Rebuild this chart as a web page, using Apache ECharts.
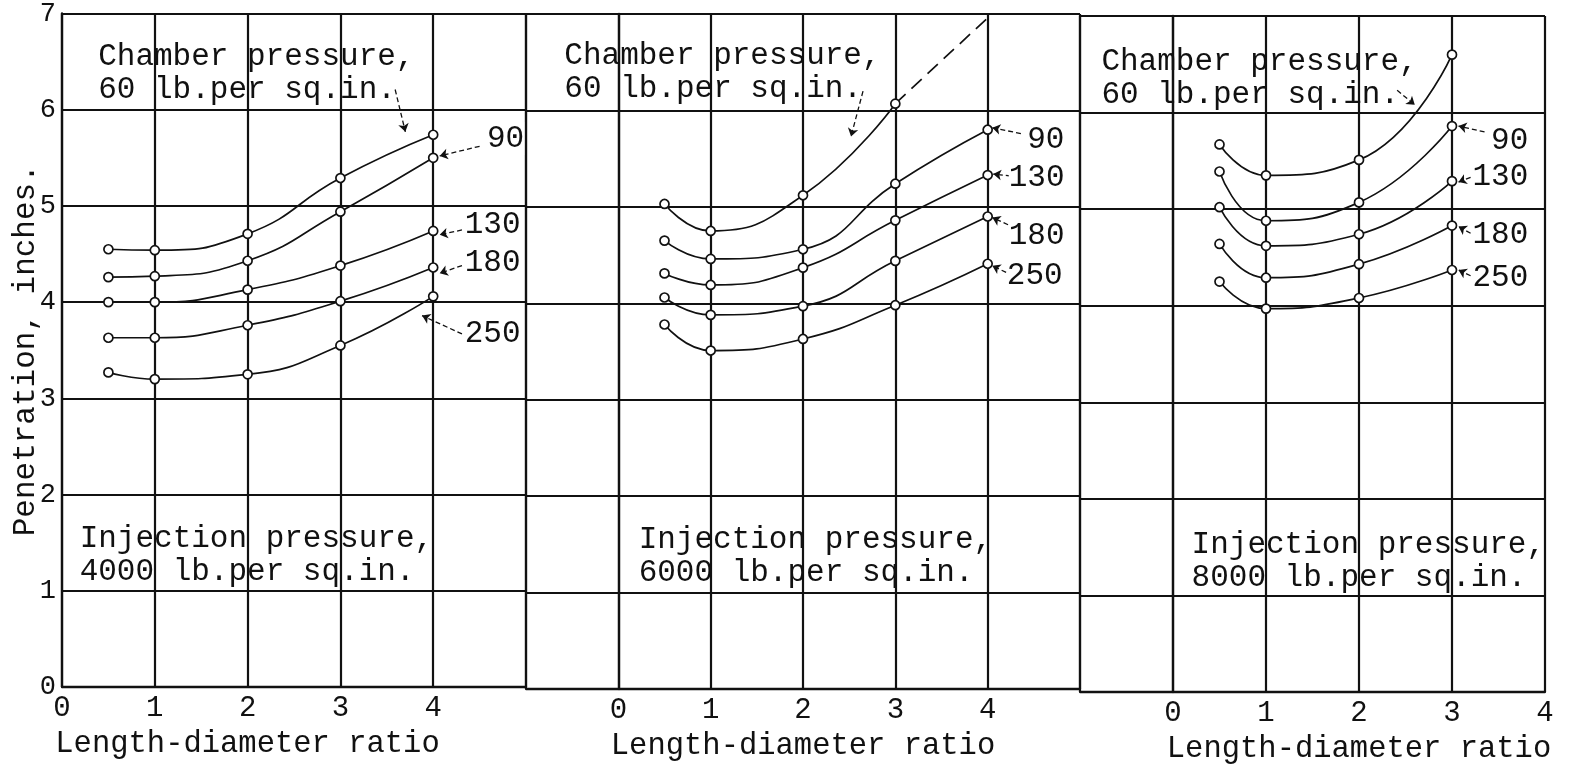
<!DOCTYPE html>
<html>
<head>
<meta charset="utf-8">
<script src="https://cdn.jsdelivr.net/npm/echarts@6.0.0/dist/echarts.min.js"></script>
<style>
  html, body { margin: 0; padding: 0; background: #fff; }
  #main { width: 1569px; height: 774px; }
</style>
</head>
<body>
<div id="main"></div>
<script>
// Length-diameter ratios where penetration was measured
const ldRatio = [0.5, 1, 2, 3, 4];
const ldRatio8000 = [0.5, 1, 2, 3];
const chamberPressures = ['60', '90', '130', '180', '250'];
const xTickLabels = ['0', '1', '2', '3', '4'];

// Injection pressure 4000 lb/sq in - penetration, inches
const inj4000_60 = [4.55, 4.54, 4.71, 5.29, 5.74];
const inj4000_90 = [4.26, 4.27, 4.43, 4.94, 5.50];
const inj4000_130 = [4.00, 4.00, 4.13, 4.38, 4.74];
const inj4000_180 = [3.63, 3.63, 3.76, 4.01, 4.36];
const inj4000_250 = [3.27, 3.20, 3.25, 3.55, 4.06];

// Injection pressure 6000 lb/sq in
const inj6000_60 = [5.03, 4.75, 5.12, 6.07, null];
const inj6000_90 = [4.65, 4.46, 4.56, 5.24, 5.80];
const inj6000_130 = [4.31, 4.19, 4.37, 4.86, 5.33];
const inj6000_180 = [4.06, 3.88, 3.97, 4.44, 4.90];
const inj6000_250 = [3.78, 3.51, 3.63, 3.98, 4.41];
// dashed extrapolation of the 60 lb curve
const inj6000_60ext_x = [3, 4];
const inj6000_60ext = [6.07, 6.96];

// Injection pressure 8000 lb/sq in
const inj8000_60 = [5.67, 5.35, 5.51, 6.60];
const inj8000_90 = [5.39, 4.88, 5.07, 5.86];
const inj8000_130 = [5.02, 4.62, 4.74, 5.29];
const inj8000_180 = [4.64, 4.29, 4.43, 4.83];
const inj8000_250 = [4.25, 3.97, 4.08, 4.37];

const INK = '#111';
const FONT = '"Liberation Mono", "DejaVu Sans Mono", monospace';

const panels = [
  { xs: ldRatio, sets: [inj4000_60, inj4000_90, inj4000_130, inj4000_180, inj4000_250] },
  { xs: ldRatio, sets: [inj6000_60, inj6000_90, inj6000_130, inj6000_180, inj6000_250] },
  { xs: ldRatio8000, sets: [inj8000_60, inj8000_90, inj8000_130, inj8000_180, inj8000_250] },
];

// text notes, placed in data units of each panel
const notes = [
  { g: 0, x: 0.39, y: 6.72, t: 'Chamber pressure,\n60 lb.per sq.in.', block: true },
  { g: 1, x: -0.585, y: 6.74, t: 'Chamber pressure,\n60 lb.per sq.in.', block: true },
  { g: 2, x: -0.77, y: 6.70, t: 'Chamber pressure,\n60 lb.per sq.in.', block: true },
  { g: 0, x: 0.19, y: 1.71, t: 'Injection pressure,\n4000 lb.per sq.in.', block: true },
  { g: 1, x: 0.22, y: 1.72, t: 'Injection pressure,\n6000 lb.per sq.in.', block: true },
  { g: 2, x: 0.20, y: 1.70, t: 'Injection pressure,\n8000 lb.per sq.in.', block: true },
  { g: 0, x: 4.78, y: 5.70, t: '90' }, { g: 0, x: 4.64, y: 4.80, t: '130' },
  { g: 0, x: 4.64, y: 4.41, t: '180' }, { g: 0, x: 4.64, y: 3.67, t: '250' },
  { g: 1, x: 4.63, y: 5.70, t: '90' }, { g: 1, x: 4.53, y: 5.30, t: '130' },
  { g: 1, x: 4.53, y: 4.70, t: '180' }, { g: 1, x: 4.51, y: 4.29, t: '250' },
  { g: 2, x: 3.62, y: 5.71, t: '90' }, { g: 2, x: 3.52, y: 5.33, t: '130' },
  { g: 2, x: 3.52, y: 4.73, t: '180' }, { g: 2, x: 3.52, y: 4.29, t: '250' },
];

// leader arrows [from, to, curveness]
const leaders = [
  [[[3.59, 6.21], [3.70, 5.77], -0.4], [[4.50, 5.62], [4.07, 5.52], 0], [[4.31, 4.75], [4.07, 4.70], 0],
   [[4.31, 4.38], [4.07, 4.30], 0], [[4.31, 3.67], [3.88, 3.86], 0.25]],
  [[[2.65, 6.20], [2.52, 5.73], 0.4], [[4.36, 5.76], [4.05, 5.82], 0], [[4.25, 5.32], [4.06, 5.34], 0],
   [[4.30, 4.78], [4.05, 4.89], 0], [[4.20, 4.32], [4.05, 4.39], 0]],
  [[[2.41, 6.23], [2.60, 6.08], 0], [[3.35, 5.80], [3.07, 5.86], 0], [[3.20, 5.33], [3.07, 5.28], 0],
   [[3.20, 4.75], [3.07, 4.82], 0], [[3.20, 4.31], [3.07, 4.37], 0]],
];

const grids = [
  { left: 62, top: 12, width: 464, height: 675 },
  { left: 526, top: 14, width: 554, height: 675 },
  { left: 1080, top: 16, width: 465, height: 676 },
];
const xRanges = [[0, 5], [-1, 5], [-1, 4]];
const namePad = [[0, 93, 0, 0], [0, 0, 0, 0], [0, 0, 0, 93]];

const xAxes = xRanges.map((r, i) => ({
  type: 'value', gridIndex: i, min: r[0], max: r[1], interval: 1,
  axisLine: { show: true, onZero: false, lineStyle: { color: INK, width: 2.3 } },
  axisTick: { show: false },
  splitLine: { show: true, lineStyle: { color: INK, width: 2.2 } },
  axisLabel: {
    color: INK, fontFamily: FONT, fontSize: 29, margin: 7,
    formatter: v => (v >= 0 && v <= 4 ? xTickLabels[v] : '')
  },
  name: 'Length-diameter ratio', nameLocation: 'middle', nameGap: 41,
  nameTextStyle: { color: INK, fontFamily: FONT, fontSize: 30.5, padding: namePad[i] }
}));

const yAxes = [0, 1, 2].map(i => ({
  type: 'value', gridIndex: i, min: 0, max: 7, interval: 1,
  axisLine: { show: true, lineStyle: { color: INK, width: 2.3 } },
  axisTick: { show: false },
  splitLine: { show: true, lineStyle: { color: INK, width: 2.2 } },
  axisLabel: { show: i === 0, color: INK, fontFamily: FONT, fontSize: 27, margin: 6 },
  name: i === 0 ? 'Penetration, inches.' : '', nameLocation: 'middle', nameGap: 21,
  nameMoveOverlap: false,
  nameTextStyle: { color: INK, fontFamily: FONT, fontSize: 31 }
}));

const series = [];
panels.forEach((p, g) => {
  p.sets.forEach((ys, k) => {
    const s = {
      type: 'line', name: chamberPressures[k] + '-' + g, xAxisIndex: g, yAxisIndex: g,
      data: p.xs.map((x, j) => [x, ys[j]]).filter(d => d[1] != null),
      smooth: 0.5, symbol: 'circle', symbolSize: 9, showSymbol: true,
      itemStyle: { color: '#fff', borderColor: INK, borderWidth: 1.7 },
      lineStyle: { color: INK, width: 1.7 }, z: 3
    };
    if (k === 0) {
      s.markLine = {
        silent: true, symbol: ['none', 'arrow'], symbolSize: 8,
        label: { show: false },
        data: leaders[g].map(l => [
          { coord: l[0], lineStyle: { curveness: l[2] } },
          { coord: l[1] }
        ]),
        lineStyle: { color: INK, width: 1.3, type: [5, 3] }
      };
    }
    series.push(s);
  });
});
series.push({
  type: 'line', name: '60-ext', xAxisIndex: 1, yAxisIndex: 1,
  data: inj6000_60ext_x.map((x, j) => [x, inj6000_60ext[j]]),
  showSymbol: false, lineStyle: { color: INK, width: 1.7, type: [14, 8] }, z: 2
});

const chart = echarts.init(document.getElementById('main'));
chart.setOption({
  backgroundColor: '#fff',
  animation: false,
  grid: grids,
  xAxis: xAxes,
  yAxis: yAxes,
  series: series
});

const graphic = notes.map(n => {
  const pt = chart.convertToPixel({ gridIndex: n.g }, [n.x, n.y]);
  return {
    type: 'text', x: pt[0], y: pt[1], z: 10,
    style: {
      text: n.t, fill: INK, fontFamily: FONT, fontSize: 31,
      lineHeight: 33,
      textAlign: n.block ? 'left' : 'center', align: n.block ? 'left' : 'center',
      textVerticalAlign: n.block ? 'top' : 'middle', verticalAlign: n.block ? 'top' : 'middle',
      backgroundColor: n.block ? null : '#fff'
    }
  };
});
chart.setOption({ graphic: graphic });
</script>
</body>
</html>
